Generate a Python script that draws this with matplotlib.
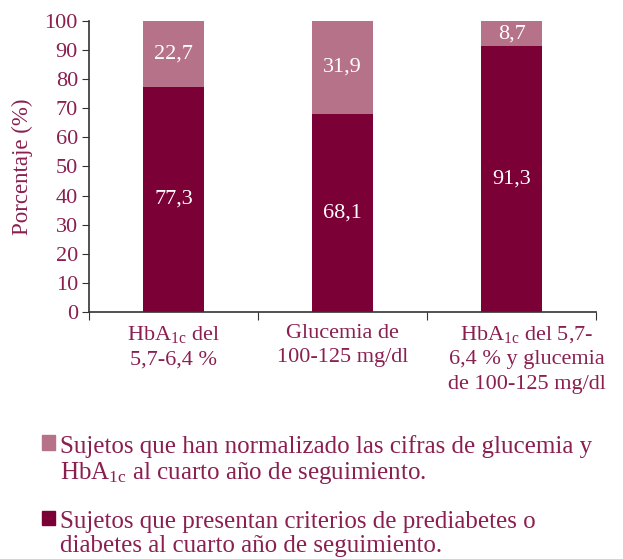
import matplotlib
matplotlib.use("Agg")
import matplotlib.pyplot as plt
from matplotlib.patches import Rectangle

plt.rcParams["font.family"] = ["Liberation Serif", "DejaVu Serif"]
plt.rcParams["mathtext.fontset"] = "custom"
plt.rcParams["mathtext.rm"] = "Liberation Serif"
plt.rcParams["mathtext.it"] = "Liberation Serif"

CATEGORIES = [
    "HbA$_{\\rm 1c}$ del\n5,7-6,4 %",
    "Glucemia de\n100-125 mg/dl",
    "HbA$_{\\rm 1c}$ del 5,7-\n6,4 % y glucemia\nde 100-125 mg/dl",
]
PREDIABETES = [77.3, 68.1, 91.3]
NORMALIZED = [22.7, 31.9, 8.7]
Y_TICKS = [0, 10, 20, 30, 40, 50, 60, 70, 80, 90, 100]
LEGEND = [
    "Sujetos que han normalizado las cifras de glucemia y\nHbA$_{\\rm 1c}$ al cuarto año de seguimiento.",
    "Sujetos que presentan criterios de prediabetes o\ndiabetes al cuarto año de seguimiento.",
]

DARK, LIGHT, TEXT, AXIS = "#7a0036", "#b57288", "#8a1f50", "#333333"
LABEL_SHIFT = [0, 0, 0.09]  # third label sits a bit right of its bar

fig = plt.figure(figsize=(6.23, 5.59), dpi=100)
ax = fig.add_axes([0.1429, 0.4419, 0.8138, 0.5205])

x = range(len(CATEGORIES))
ax.bar(x, PREDIABETES, width=0.36, color=DARK)
ax.bar(x, NORMALIZED, width=0.36, bottom=PREDIABETES, color=LIGHT)
for i, (d, n) in enumerate(zip(PREDIABETES, NORMALIZED)):
    ax.text(i, d / 2, f"{d:.1f}".replace(".", ","), ha="center", va="center", color="white", fontsize=16)
    ax.text(i, d + n / 2, f"{n:.1f}".replace(".", ","), ha="center", va="center", color="white", fontsize=16)

ax.set_xlim(-0.5, 2.5)
ax.set_ylim(0, 100)
ax.set_yticks(Y_TICKS)
ax.set_xticks([-0.5, 0.5, 1.5, 2.5])
ax.set_xticklabels([])
ax.tick_params(axis="x", length=6, color=AXIS, direction="out")
ax.tick_params(axis="y", length=5, color=AXIS, direction="out", labelsize=16, labelcolor=TEXT, pad=3)
for s in ["top", "right"]:
    ax.spines[s].set_visible(False)
for s in ["left", "bottom"]:
    ax.spines[s].set_color(AXIS)
    ax.spines[s].set_linewidth(1.2)
ax.set_ylabel("Porcentaje (%)", color=TEXT, fontsize=16.5, labelpad=8)

for i, lab in enumerate(CATEGORIES):
    ax.text(i + LABEL_SHIFT[i], -4, lab, ha="center", va="top", color=TEXT, fontsize=16, linespacing=1.42)

# legend drawn by hand
for yy, col, lab in [(0.208, LIGHT, LEGEND[0]), (0.073, DARK, LEGEND[1])]:
    fig.patches.append(Rectangle((0.067, yy - 0.013), 0.021, 0.026, transform=fig.transFigure,
                                 color=col, figure=fig))
    fig.text(0.096, yy + 0.013, lab, ha="left", va="top", color=TEXT, fontsize=18, linespacing=1.1)

fig.savefig("out.png", dpi=100)
